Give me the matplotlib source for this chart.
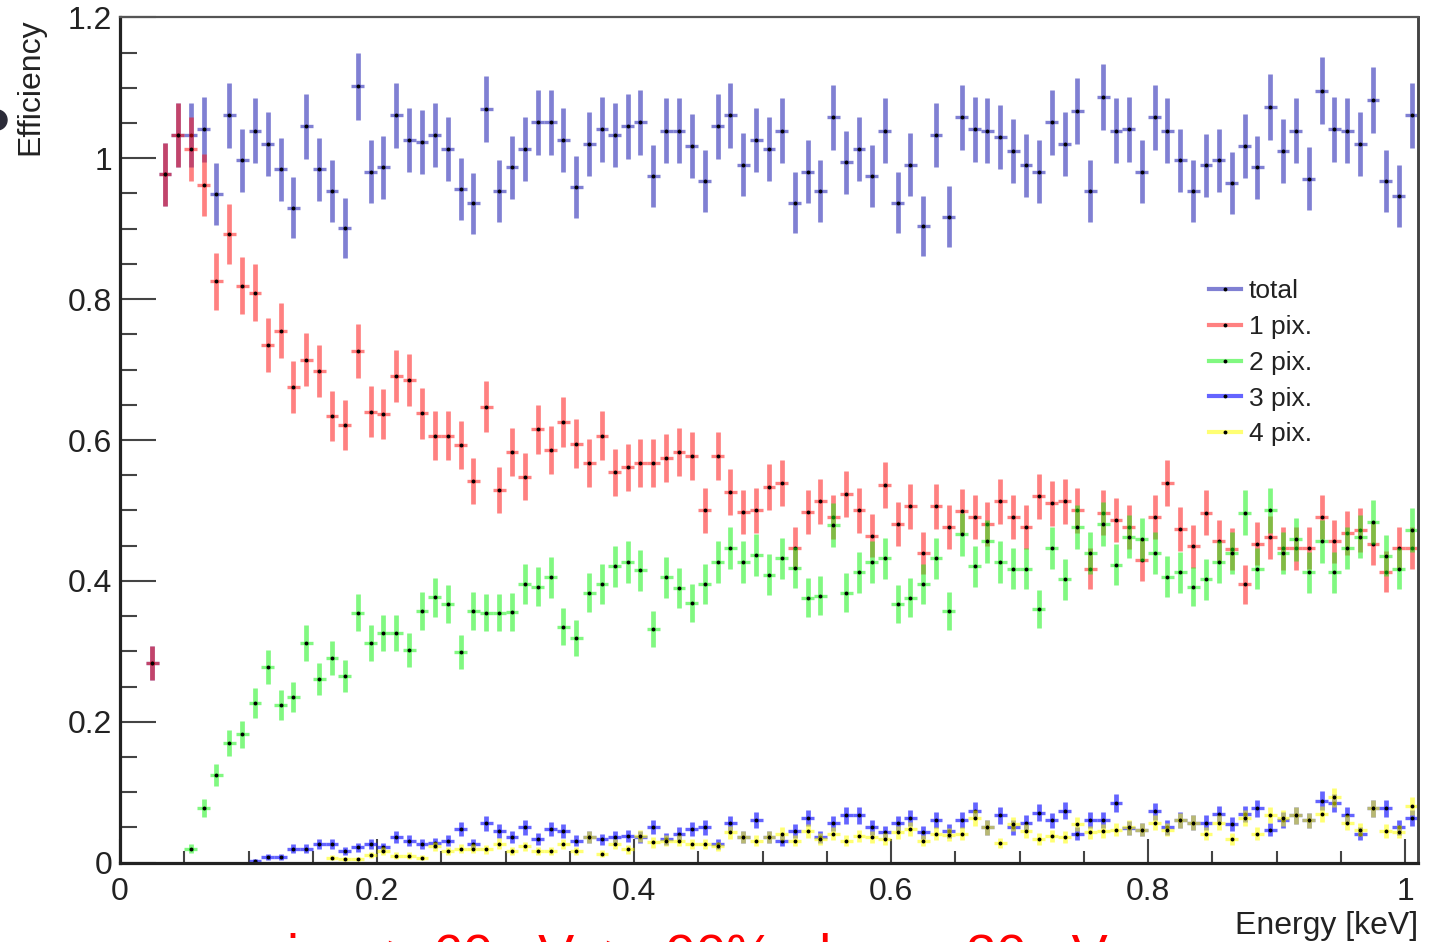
import numpy as np
import matplotlib
matplotlib.use("Agg")
import matplotlib.pyplot as plt
from matplotlib.lines import Line2D
from matplotlib.patches import Ellipse
from matplotlib.ticker import MultipleLocator

plt.rcParams['font.family'] = ['Liberation Sans', 'DejaVu Sans']

# 10 eV bins, each series listed from its first filled bin
BIN_WIDTH = 0.01
N_GEN = 495.0  # generated events per bin -> Poisson errors

total_start = 0.025
total = [0.283, 0.977, 1.033, 1.033, 1.041, 0.949, 1.061, 0.997, 1.039, 1.020,
         0.984, 0.930, 1.045, 0.984, 0.953, 0.901, 1.102, 0.981, 0.987, 1.061,
         1.026, 1.023, 1.033, 1.013, 0.956, 0.936, 1.070, 0.953, 0.987, 1.013,
         1.051, 1.051, 1.026, 0.959, 1.020, 1.041, 1.033, 1.045, 1.051, 0.975,
         1.039, 1.039, 1.017, 0.968, 1.045, 1.061, 0.991, 1.026, 1.013, 1.039,
         0.937, 0.981, 0.954, 1.058, 0.994, 1.013, 0.975, 1.039, 0.937, 0.991,
         0.904, 1.033, 0.917, 1.058, 1.041, 1.039, 1.030, 1.010, 0.990, 0.981,
         1.051, 1.020, 1.067, 0.954, 1.087, 1.039, 1.041, 0.981, 1.058, 1.039,
         0.997, 0.953, 0.990, 0.997, 0.965, 1.017, 0.987, 1.073, 1.010, 1.039,
         0.971, 1.096, 1.041, 1.039, 1.020, 1.083, 0.968, 0.946, 1.061]

pix1_start = 0.025
pix1 = [0.283, 0.977, 1.033, 1.013, 0.962, 0.825, 0.892, 0.819, 0.809, 0.735,
        0.755, 0.675, 0.714, 0.698, 0.634, 0.621, 0.726, 0.640, 0.637, 0.691,
        0.685, 0.638, 0.606, 0.606, 0.593, 0.542, 0.647, 0.529, 0.583, 0.548,
        0.615, 0.586, 0.625, 0.595, 0.567, 0.606, 0.554, 0.561, 0.567, 0.567,
        0.574, 0.583, 0.577, 0.500, 0.577, 0.526, 0.498, 0.500, 0.533, 0.539,
        0.447, 0.498, 0.513, 0.491, 0.523, 0.500, 0.464, 0.536, 0.481, 0.506,
        0.440, 0.506, 0.477, 0.499, 0.491, 0.481, 0.513, 0.491, 0.477, 0.520,
        0.510, 0.513, 0.500, 0.417, 0.497, 0.487, 0.477, 0.430, 0.491, 0.539,
        0.474, 0.449, 0.497, 0.456, 0.445, 0.395, 0.453, 0.462, 0.446, 0.446,
        0.447, 0.491, 0.456, 0.468, 0.472, 0.453, 0.413, 0.447, 0.447]

pix2_start = 0.055
pix2 = [0.020, 0.078, 0.124, 0.170, 0.182, 0.227, 0.278, 0.224, 0.235, 0.312,
        0.261, 0.291, 0.265, 0.355, 0.312, 0.326, 0.326, 0.302, 0.357, 0.377,
        0.367, 0.299, 0.357, 0.355, 0.355, 0.356, 0.396, 0.392, 0.405, 0.335,
        0.319, 0.383, 0.396, 0.421, 0.427, 0.415, 0.332, 0.405, 0.390, 0.369,
        0.396, 0.427, 0.447, 0.427, 0.437, 0.409, 0.432, 0.419, 0.376, 0.379,
        0.479, 0.383, 0.412, 0.427, 0.432, 0.367, 0.376, 0.396, 0.432, 0.357,
        0.466, 0.421, 0.456, 0.427, 0.417, 0.417, 0.360, 0.447, 0.402, 0.477,
        0.440, 0.481, 0.423, 0.463, 0.459, 0.440, 0.406, 0.412, 0.392, 0.402,
        0.427, 0.439, 0.497, 0.417, 0.500, 0.440, 0.459, 0.412, 0.456, 0.412,
        0.447, 0.463, 0.484, 0.436, 0.417, 0.472]

pix3_start = 0.105
pix3 = [0.003, 0.008, 0.008, 0.020, 0.020, 0.026, 0.026, 0.017, 0.022, 0.026,
        0.022, 0.036, 0.031, 0.026, 0.028, 0.031, 0.048, 0.026, 0.056, 0.045,
        0.036, 0.050, 0.034, 0.048, 0.045, 0.031, 0.036, 0.033, 0.036, 0.038,
        0.036, 0.051, 0.034, 0.041, 0.048, 0.050, 0.026, 0.056, 0.037, 0.061,
        0.037, 0.031, 0.045, 0.064, 0.037, 0.056, 0.067, 0.067, 0.050, 0.043,
        0.056, 0.064, 0.043, 0.061, 0.045, 0.061, 0.074, 0.050, 0.067, 0.050,
        0.057, 0.071, 0.060, 0.074, 0.041, 0.061, 0.061, 0.085, 0.049, 0.047,
        0.073, 0.050, 0.061, 0.057, 0.057, 0.069, 0.055, 0.069, 0.077, 0.047,
        0.061, 0.067, 0.060, 0.088, 0.085, 0.067, 0.041, 0.077, 0.077, 0.050,
        0.064]

pix4_start = 0.165
pix4 = [0.007, 0.005, 0.005, 0.011, 0.016, 0.010, 0.010, 0.007, 0.023, 0.017,
        0.020, 0.020, 0.019, 0.027, 0.017, 0.023, 0.017, 0.017, 0.026, 0.017,
        0.036, 0.013, 0.026, 0.019, 0.038, 0.029, 0.031, 0.031, 0.026, 0.026,
        0.023, 0.043, 0.036, 0.031, 0.037, 0.041, 0.031, 0.045, 0.034, 0.041,
        0.031, 0.038, 0.036, 0.034, 0.043, 0.048, 0.031, 0.041, 0.040, 0.041,
        0.064, 0.050, 0.028, 0.055, 0.045, 0.034, 0.038, 0.036, 0.055, 0.043,
        0.045, 0.047, 0.050, 0.047, 0.057, 0.047, 0.060, 0.057, 0.041, 0.057,
        0.034, 0.064, 0.041, 0.068, 0.064, 0.067, 0.060, 0.069, 0.093, 0.057,
        0.047, 0.077, 0.045, 0.044, 0.081]

series = [
    ("total", total_start, total, (0.20, 0.20, 0.72, 0.62)),
    ("1 pix.", pix1_start, pix1, (1.00, 0.05, 0.05, 0.52)),
    ("2 pix.", pix2_start, pix2, (0.05, 0.95, 0.05, 0.52)),
    ("3 pix.", pix3_start, pix3, (0.10, 0.10, 1.00, 0.68)),
    ("4 pix.", pix4_start, pix4, (1.00, 1.00, 0.00, 0.55)),
]

W, H = 1431, 942
fig = plt.figure(figsize=(W / 100, H / 100), dpi=100)
x0, x1 = 120, 1418
y0, y1 = 862.7, 17.3
ax = fig.add_axes([x0 / W, 1 - y0 / H, (x1 - x0) / W, (y0 - y1) / H])

handles = []
for label, start, vals, col in series:
    vals = np.array(vals)
    energy = start + BIN_WIDTH * np.arange(len(vals))
    err = np.sqrt(vals / N_GEN)
    ax.errorbar(energy, vals, yerr=err, fmt='none', ecolor=col,
                elinewidth=3.4, capsize=0)
    ax.errorbar(energy, vals, xerr=BIN_WIDTH / 2, fmt='none', ecolor=col,
                elinewidth=2.4, capsize=0)
    ax.plot(energy, vals, ls='none', marker='o', ms=1.8, color='k')
    handles.append(Line2D([0], [0], color=col, lw=3, marker='o', ms=1.8,
                          mfc='k', mec='k', label=label))

ax.set_xlim(0, 1.01)
ax.set_ylim(0, 1.2)
ax.set_xticks([0, 0.2, 0.4, 0.6, 0.8, 1.0])
ax.set_xticklabels(['0', '0.2', '0.4', '0.6', '0.8', '1'])
ax.set_yticks([0, 0.2, 0.4, 0.6, 0.8, 1.0, 1.2])
ax.set_yticklabels(['0', '0.2', '0.4', '0.6', '0.8', '1', '1.2'])
ax.xaxis.set_minor_locator(MultipleLocator(0.05))
ax.yaxis.set_minor_locator(MultipleLocator(0.05))

ax.tick_params(which='both', direction='in', top=False, right=False,
               color='#444444', width=1.5, labelsize=23, labelcolor='#222222')
ax.tick_params(axis='x', which='major', length=17, pad=10)
ax.tick_params(axis='x', which='minor', length=8.5)
ax.tick_params(axis='y', which='major', length=26, pad=5.5)
ax.tick_params(axis='y', which='minor', length=12)

for side in ('left', 'bottom'):
    ax.spines[side].set_linewidth(2.3)
    ax.spines[side].set_color('#222222')
ax.spines['top'].set_linewidth(1.6)
ax.spines['top'].set_color('#555555')
ax.spines['right'].set_linewidth(2.1)
ax.spines['right'].set_color('#444444')

fig.text(30 / W, 1 - 18 / H, 'Efficiency', rotation=90, ha='center', va='top',
         fontsize=23, color='#222222')
fig.text(1418 / W, 1 - 934 / H, 'Energy [keV]', ha='right', va='baseline',
         fontsize=23, color='#222222')

leg = ax.legend(handles=handles, loc='upper left',
                bbox_to_anchor=(1209 / W, 1 - 279 / H),
                bbox_transform=fig.transFigure, frameon=False, fontsize=19,
                handlelength=1.2, handletextpad=0.3, labelspacing=0.45,
                borderpad=0, borderaxespad=0)
for t in leg.get_texts():
    t.set_color('#222222')

# slide caption running off the bottom edge
fig.text(257 / W, 1 - 972 / H, 'pix.   > 60 eV  >  90% above  30 eV',
         ha='left', va='baseline', fontsize=39, color='red')

# bullet from the slide at the left edge
fig.patches.append(Ellipse((-3 / W, 1 - 120 / H), 20 / W, 20 / H,
                           transform=fig.transFigure, color='#2b2b38'))

fig.savefig('out.png', dpi=100)
